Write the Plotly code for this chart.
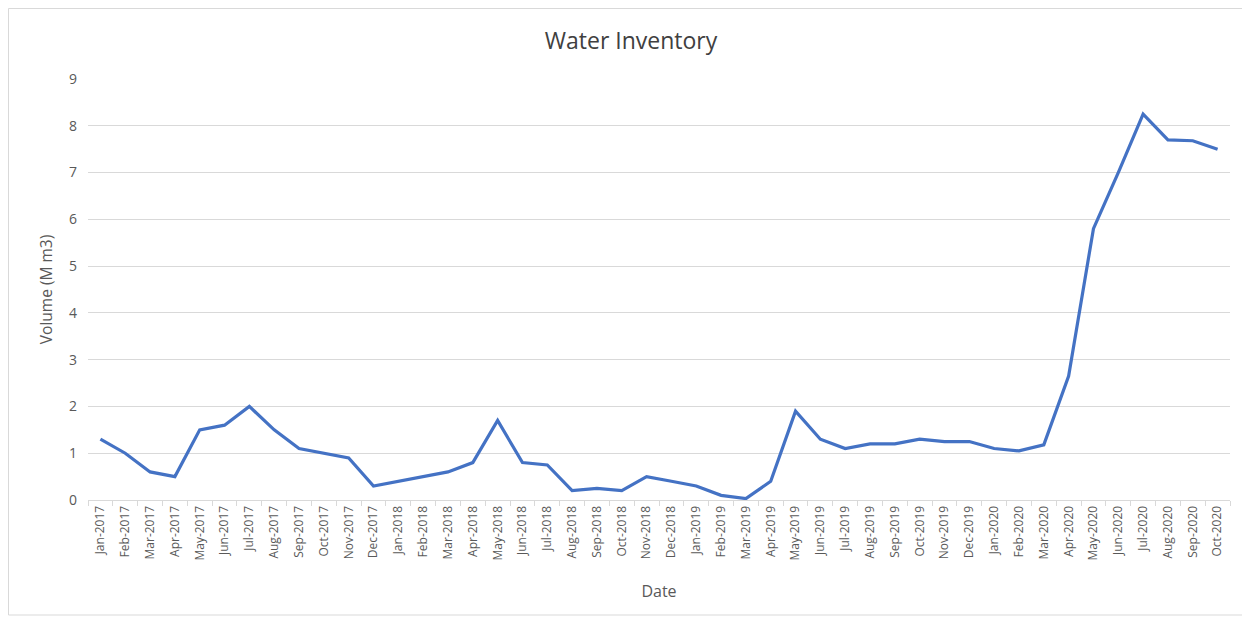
import plotly.graph_objects as go

months = ["Jan", "Feb", "Mar", "Apr", "May", "Jun", "Jul", "Aug", "Sep", "Oct", "Nov", "Dec"]
dates = [f"{m}-{y}" for y in range(2017, 2021) for m in months][:46]

volume = [1.3, 1.0, 0.6, 0.5, 1.5, 1.6, 2.0, 1.5, 1.1, 1.0, 0.9, 0.3,
          0.4, 0.5, 0.6, 0.8, 1.7, 0.8, 0.75, 0.2, 0.25, 0.2, 0.5, 0.4,
          0.3, 0.1, 0.03, 0.4, 1.9, 1.3, 1.1, 1.2, 1.2, 1.3, 1.25, 1.25,
          1.1, 1.05, 1.18, 2.65, 5.8, 7.0, 8.25, 7.7, 7.68, 7.5]

y_ticks = list(range(0, 10))

fig = go.Figure()
fig.add_trace(go.Scatter(x=dates, y=volume, mode="lines",
                         line=dict(color="#4472C4", width=3.2)))

# page has an 8px body margin; figure coords = page coords - 8
W, H = 1242, 618
L, R, T, B = 80, 20, 71, 126
pw, ph = W - L - R, H - T - B

fig.update_layout(
    width=W, height=H,
    margin=dict(l=L, r=R, t=T, b=B),
    plot_bgcolor="white", paper_bgcolor="white",
    showlegend=False,
    font=dict(family="Open Sans, sans-serif", color="#595959"),
    title=dict(text="Water Inventory", x=(631 - 8) / W, xanchor="center",
               y=1 - 33 / H, yanchor="middle",
               font=dict(size=23, color="#404040")),
    xaxis=dict(type="category", tickangle=-90, tickfont=dict(size=12),
               ticks="outside", tickson="boundaries", ticklen=5,
               tickcolor="#d9d9d9", showline=True, linecolor="#d9d9d9",
               linewidth=1, showgrid=False,
               title=dict(text="Date", font=dict(size=16), standoff=26),
               range=[-0.5, len(dates) - 0.5]),
    yaxis=dict(range=[0, 9], tickvals=y_ticks, showgrid=True,
               gridcolor="#d9d9d9", gridwidth=1, zeroline=False,
               tickfont=dict(size=14), ticklabelstandoff=10,
               title=dict(text="Volume (M m3)", font=dict(size=15.5), standoff=12)),
)

fig.add_shape(type="rect", xref="paper", yref="paper",
              x0=-(L - 0.5) / pw, x1=(1237 - L) / pw,
              y0=-(607 - (H - B)) / ph, y1=(H - B - 0.5) / ph,
              line=dict(color="#d9d9d9", width=1), layer="below")

fig.write_html("out.html")
